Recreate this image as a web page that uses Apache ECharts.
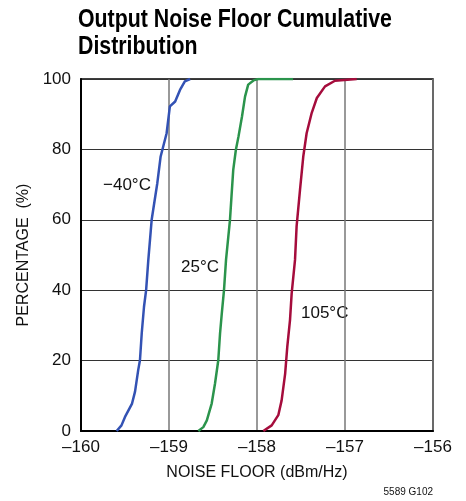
<!DOCTYPE html>
<html>
<head>
<meta charset="utf-8">
<script src="https://cdn.jsdelivr.net/npm/echarts@6/dist/echarts.min.js"></script>
<style>
  html, body { margin: 0; padding: 0; background: #fff; }
  #chart_noise { width: 466px; height: 501px; }
</style>
</head>
<body>
<div id="chart_noise"></div>
<script>
  // noise floor (dBm/Hz) vs cumulative percentage
  const coldX = [-159.595, -159.54, -159.50, -159.42, -159.386, -159.35, -159.33, -159.31, -159.284, -159.26, -159.235, -159.197, -159.133, -159.095, -159.065, -159.027, -158.99, -158.93, -158.875, -158.82, -158.76]
  const coldY = [0, 1.6, 4, 7.8, 11.2, 17.3, 20.1, 27.7, 35.3, 40, 48.6, 60, 70.4, 78, 80.9, 84.6, 92.2, 93.6, 96.9, 99.3, 100]
  const roomX = [-158.667, -158.61, -158.57, -158.515, -158.477, -158.44, -158.42, -158.40, -158.375, -158.352, -158.307, -158.29, -158.27, -158.24, -158.21, -158.17, -158.136, -158.1, -158.04, -157.985, -157.59]
  const roomY = [0, 1.1, 3, 7.8, 13.5, 20.1, 27.7, 33.4, 40, 48.6, 60, 66.6, 74.2, 79.9, 83.7, 89.4, 95, 98.4, 99.6, 100, 100]
  const hotX = [-157.928, -157.833, -157.758, -157.72, -157.68, -157.656, -157.625, -157.606, -157.568, -157.55, -157.511, -157.474, -157.436, -157.378, -157.32, -157.227, -157.114, -156.867]
  const hotY = [0, 1.6, 4.5, 8.7, 16.3, 23.9, 31.5, 39.1, 48.6, 58.1, 68.6, 78, 84.6, 90.4, 94.6, 97.9, 99.5, 100]
  const seriesNames = ['\u221240\u00b0C', '25\u00b0C', '105\u00b0C']

  const narrow = "'Liberation Sans Narrow', 'Arial Narrow', 'Liberation Sans', sans-serif"
  const zip = (xs, ys) => xs.map((x, i) => [x, ys[i]])

  let chart = echarts.init(document.getElementById('chart_noise'))
  let options = {
    animation: false,
    grid: {
      left: 81,
      right: 33,
      top: 79,
      bottom: 70,
      show: true,
      borderColor: '#000',
      borderWidth: 1.5
    },
    xAxis: {
      type: 'value',
      min: -160,
      max: -156,
      interval: 1,
      name: 'NOISE FLOOR (dBm/Hz)',
      nameLocation: 'middle',
      nameGap: 34,
      nameTextStyle: { fontFamily: narrow, fontSize: 16, color: '#111' },
      axisLine: { show: true, lineStyle: { color: '#000', width: 2 } },
      axisTick: { show: false },
      axisLabel: {
        fontFamily: narrow,
        fontSize: 17,
        color: '#111',
        margin: 8,
        formatter: (v) => String(v).replace('-', '\u2013')
      },
      splitLine: { show: true, lineStyle: { color: '#777', width: 1.5 } }
    },
    yAxis: {
      type: 'value',
      min: 0,
      max: 100,
      interval: 20,
      name: 'PERCENTAGE  (%)',
      nameLocation: 'middle',
      nameGap: 35,
      nameTextStyle: { fontFamily: narrow, fontSize: 16, color: '#111' },
      axisLine: { show: true, lineStyle: { color: '#000', width: 2 } },
      axisTick: { show: false },
      axisLabel: { fontFamily: narrow, fontSize: 17, color: '#111', margin: 10 },
      splitLine: { show: true, lineStyle: { color: '#333', width: 1.2 } }
    },
    graphic: [
      // title: condensed look by squeezing the bold face horizontally
      {
        type: 'text',
        x: 78,
        y: 6,
        scaleX: 0.82,
        style: {
          text: 'Output Noise Floor Cumulative\nDistribution',
          font: 'bold 26px ' + narrow,
          lineHeight: 27,
          fill: '#000'
        }
      },
      { type: 'text', left: 103, top: 177, style: { text: seriesNames[0], font: '17px ' + narrow, fill: '#111' } },
      { type: 'text', left: 181, top: 259, style: { text: seriesNames[1], font: '17px ' + narrow, fill: '#111' } },
      { type: 'text', left: 301, top: 305, style: { text: seriesNames[2], font: '17px ' + narrow, fill: '#111' } },
      { type: 'text', right: 33, top: 487, style: { text: '5589 G102', font: '10px ' + narrow, fill: '#111' } }
    ],
    series: [
      {
        name: seriesNames[0],
        type: 'line',
        showSymbol: false,
        lineStyle: { color: '#3352b4', width: 2.5 },
        data: zip(coldX, coldY)
      },
      {
        name: seriesNames[1],
        type: 'line',
        showSymbol: false,
        lineStyle: { color: '#2b944c', width: 2.5 },
        data: zip(roomX, roomY)
      },
      {
        name: seriesNames[2],
        type: 'line',
        showSymbol: false,
        lineStyle: { color: '#a50c3c', width: 2.5 },
        data: zip(hotX, hotY)
      }
    ]
  }
  chart.setOption(options)
</script>
</body>
</html>
